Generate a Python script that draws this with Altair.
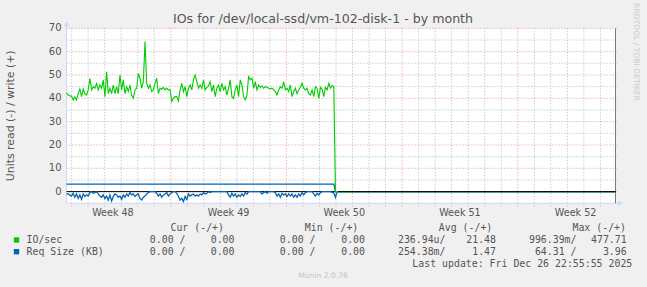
import altair as alt
import pandas as pd

# ---------------- data ----------------
TITLE = "IOs for /dev/local-ssd/vm-102-disk-1 - by month"
Y_LABEL = "Units read (-) / write (+)"
WATERMARK = "RRDTOOL / TOBI OETIKER"
FOOTER = "Munin 2.0.76"
LAST_UPDATE = "Last update: Fri Dec 26 22:55:55 2025"

week_labels = ["Week 48", "Week 49", "Week 50", "Week 51", "Week 52"]
week_label_days = [2.81, 9.81, 16.81, 23.81, 30.81]
week_start_days = [6.31, 13.31, 20.31, 27.31]
y_major = [0, 10, 20, 30, 40, 50, 60, 70]
y_minor = [5, 15, 25, 35, 45, 55, 65]

SAMPLE_STEP_DAYS = 0.1011    # spacing of the samples
X_END_DAYS = 33.224          # right edge of the month window

# IO/sec, write (+)
io_write = [
    42.4, 41.4, 41.0, 41.0, 39.3, 40.7, 39.3, 42.0, 44.0, 40.7,
    44.0, 41.9, 41.4, 43.6, 48.6, 43.6, 45.0, 44.3, 46.4, 43.6,
    45.7, 44.3, 47.9, 40.7, 51.4, 42.0, 44.3, 42.0, 45.7, 42.0,
    45.0, 42.0, 50.0, 43.6, 47.9, 42.0, 45.0, 42.9, 45.7, 41.4,
    40.0, 43.6, 44.3, 50.7, 48.6, 44.3, 47.1, 64.3, 46.4, 44.3,
    45.7, 42.9, 43.6, 46.4, 48.6, 42.0, 44.3, 43.9, 44.7, 43.6,
    44.3, 43.6, 43.6, 38.6, 40.0, 40.7, 40.7, 38.9, 43.6, 46.4,
    42.9, 45.0, 40.7, 44.3, 45.7, 43.6, 47.9, 50.0, 47.1, 44.3,
    45.7, 44.3, 47.9, 43.6, 44.7, 45.3, 47.1, 42.9, 45.7, 40.7,
    44.3, 45.7, 42.9, 46.4, 43.6, 45.0, 41.4, 44.3, 47.9, 40.7,
    40.0, 43.6, 45.7, 40.7, 47.9, 45.7, 40.7, 39.3, 41.4, 49.3,
    47.9, 48.6, 44.3, 47.1, 43.6, 45.7, 44.7, 45.3, 44.3, 45.0,
    44.7, 44.3, 43.9, 44.3, 43.6, 42.9, 41.4, 43.6, 45.0, 44.3,
    47.1, 43.6, 44.3, 42.9, 45.7, 40.7, 42.9, 44.3, 42.0, 43.6,
    44.7, 46.4, 44.3, 43.6, 44.3, 42.0, 41.4, 43.6, 40.7, 45.0,
    44.3, 40.0, 44.7, 43.9, 40.7, 44.7, 43.6, 46.4, 44.3, 45.5,
    45.0, 0.0,
]

# Req Size (KB), read (-) magnitudes
req_read = [
    1.0, 1.0, 1.5, 1.9, 0.7, 2.4, 1.0, 2.9, 1.4, 3.3,
    1.0, 2.1, 1.4, 1.9, 0.4, 0.0, 0.7, 0.4, 0.0, 1.0,
    1.9, 2.4, 1.4, 3.0, 1.9, 3.6, 1.4, 4.0, 2.1, 1.0,
    1.4, 2.4, 1.9, 3.3, 1.4, 2.4, 1.0, 1.9, 0.4, 1.4,
    1.0, 2.1, 1.4, 1.0, 2.9, 3.6, 2.4, 1.9, 1.0, 0.4,
    0.0, 0.0, 0.0, 0.0, 0.7, 1.9, 1.0, 2.4, 1.4, 1.0,
    0.4, 1.9, 1.0, 0.4, 0.0, 0.0, 0.7, 2.1, 3.6, 2.9,
    4.3, 2.1, 3.3, 1.0, 1.9, 1.4, 1.0, 1.9, 1.4, 1.9,
    1.0, 1.4, 0.4, 1.0, 0.7, 0.0, 0.4, 0.0, 0.0, 0.0,
    0.0, 0.0, 0.0, 0.0, 0.0, 0.0, 0.0, 1.4, 2.4, 0.7,
    1.9, 1.0, 2.4, 1.4, 2.1, 1.0, 1.9, 0.4, 1.0, 0.0,
    0.0, 0.0, 0.0, 0.0, 0.0, 0.0, 0.0, 1.0, 0.4, 0.0,
    0.7, 0.0, 0.0, 0.0, 0.0, 0.4, 1.9, 1.0, 2.4, 0.7,
    1.4, 1.0, 2.1, 1.0, 1.9, 1.0, 2.4, 1.4, 2.4, 1.0,
    1.9, 0.4, 1.4, 0.4, 0.0, 0.0, 0.0, 0.0, 1.0, 1.9,
    0.7, 1.4, 0.4, 0.0, 0.0, 0.0, 0.0, 0.0, 0.0, 0.3,
    0.5, 2.5, 0.0,
]

# Req Size (KB), write (+): flat line, then stops
req_write_days = [0.0, 16.18, 16.28, X_END_DAYS]
req_write = [3.2, 3.2, 0.0, 0.0]

legend_series = ["IO/sec", "Req Size (KB)"]
legend_colors = ["#00CC00", "#0066B3"]
legend_headers = ["Cur (-/+)", "Min (-/+)", "Avg (-/+)", "Max (-/+)"]
stat_neg = [["0.00 /", "0.00 /", "236.94u/", "996.39m/"],
            ["0.00 /", "0.00 /", "254.38m/", "64.31 /"]]
stat_pos = [["0.00", "0.00", "21.48", "477.71"],
            ["0.00", "0.00", "1.47", "3.96"]]

# ---------------- layout ----------------
W, H = 549, 175
PL, PT = 66.5, 28.3
TXT = "#555555"
MONO = "DejaVu Sans Mono"
SANS = "DejaVu Sans"

xs = alt.Scale(domain=[0, X_END_DAYS], nice=False, zero=False)
ys = alt.Scale(domain=[-5, 70], nice=False, zero=False)

n_io = len(io_write)
io_days = [i * SAMPLE_STEP_DAYS for i in range(n_io)] + [X_END_DAYS]
io_df = pd.DataFrame({"day": io_days, "v": io_write + [0.0]})

n_rr = len(req_read)
rr_days = [i * SAMPLE_STEP_DAYS for i in range(n_rr)] + [X_END_DAYS]
rr_df = pd.DataFrame({"day": rr_days, "v": [-r for r in req_read] + [0.0]})
rw_df = pd.DataFrame({"day": req_write_days, "v": req_write})

one = pd.DataFrame({"a": [0]})
day_minor = [d + 0.31 for d in range(34) if (d + 0.31) < X_END_DAYS and round(d + 0.31, 2) not in week_start_days]

MINOR = "#B4B4B4"
MAJOR = "#E49090"
DASH = [1, 2]

layers = []
layers.append(alt.Chart(pd.DataFrame({"d": day_minor})).mark_rule(color=MINOR, strokeWidth=1, strokeDash=DASH).encode(
    x=alt.X("d:Q", scale=xs, axis=None), y=alt.value(0), y2=alt.value(H + 3)))
layers.append(alt.Chart(pd.DataFrame({"v": y_minor})).mark_rule(color=MINOR, strokeWidth=1, strokeDash=DASH).encode(
    y=alt.Y("v:Q", scale=ys, axis=None), x=alt.value(0), x2=alt.value(W + 2)))
layers.append(alt.Chart(pd.DataFrame({"d": week_start_days})).mark_rule(color=MAJOR, strokeWidth=1, strokeDash=DASH).encode(
    x=alt.X("d:Q", scale=xs, axis=None), y=alt.value(0), y2=alt.value(H + 3)))
layers.append(alt.Chart(pd.DataFrame({"v": y_major})).mark_rule(color=MAJOR, strokeWidth=1, strokeDash=DASH).encode(
    y=alt.Y("v:Q", scale=ys, axis=None), x=alt.value(0), x2=alt.value(W + 2)))

AX = "#CFD6F8"
layers.append(alt.Chart(one).mark_rule(color=AX, strokeWidth=1).encode(
    x=alt.value(0), y=alt.value(-5), y2=alt.value(H)))
layers.append(alt.Chart(one).mark_rule(color=AX, strokeWidth=1).encode(
    x=alt.value(0), x2=alt.value(W + 5), y=alt.value(H)))
layers.append(alt.Chart(one).mark_point(shape="triangle-up", filled=True, color=AX, opacity=1, size=28).encode(
    x=alt.value(0), y=alt.value(-4.5)))
layers.append(alt.Chart(one).mark_point(shape="triangle-right", filled=True, color=AX, opacity=1, size=28).encode(
    x=alt.value(W + 5), y=alt.value(H)))
layers.append(alt.Chart(one).mark_rule(color="#7A7A7A", strokeWidth=1).encode(
    x=alt.value(W), y=alt.value(0), y2=alt.value(H)))

layers.append(alt.Chart(pd.DataFrame({"v": [0]})).mark_rule(color="#000000", strokeWidth=1).encode(
    y=alt.Y("v:Q", scale=ys, axis=None), x=alt.value(0), x2=alt.value(W)))
layers.append(alt.Chart(rr_df).mark_line(color="#0066B3", strokeWidth=1.3).encode(
    x=alt.X("day:Q", scale=xs, axis=None), y=alt.Y("v:Q", scale=ys, axis=None)))
layers.append(alt.Chart(rw_df).mark_line(color="#0066B3", strokeWidth=1.3).encode(
    x=alt.X("day:Q", scale=xs, axis=None), y=alt.Y("v:Q", scale=ys, axis=None)))
layers.append(alt.Chart(io_df).mark_line(color="#00CC00", strokeWidth=1.1).encode(
    x=alt.X("day:Q", scale=xs, axis=None), y=alt.Y("v:Q", scale=ys, axis=None)))
# zero line shows through where the values are zero (after the data stops)
layers.append(alt.Chart(pd.DataFrame({"v": [0]})).mark_rule(color="#000000", strokeWidth=1).encode(
    y=alt.Y("v:Q", scale=ys, axis=None), x=alt.value(338 - PL), x2=alt.value(W)))

layers.append(alt.Chart(pd.DataFrame({"v": y_major, "t": [str(v) for v in y_major]})).mark_text(
    align="right", baseline="middle", font=SANS, fontSize=10, color=TXT).encode(
    y=alt.Y("v:Q", scale=ys, axis=None), x=alt.value(-5), text="t:N"))
layers.append(alt.Chart(pd.DataFrame({"d": week_label_days, "t": week_labels})).mark_text(
    align="center", baseline="middle", font=SANS, fontSize=9.6, color=TXT).encode(
    x=alt.X("d:Q", scale=xs, axis=None), y=alt.value(212.7 - PT), text="t:N"))


def txt(s, x, y, size, color=TXT, align="left", font=SANS, angle=0):
    return alt.Chart(pd.DataFrame({"t": [s]})).mark_text(
        align=align, baseline="middle", fontSize=size, font=font, color=color, angle=angle).encode(
        x=alt.value(x - PL), y=alt.value(y - PT), text="t:N")


layers.append(txt(TITLE, 323, 19, 12.6, align="center"))
layers.append(txt(Y_LABEL, 10.5, 115.8, 10.9, align="center", angle=270))
layers.append(txt(WATERMARK, 636, 52, 7.6, color="#CCCCCC", align="center", angle=90))
layers.append(txt(FOOTER, 323, 276, 7.6, color="#C4C4C4", align="center"))

header_ends = [224, 358.3, 492.3, 626]
neg_ends = [185.5, 315.5, 445.5, 576.5]
pos_ends = [234.5, 365, 496, 626.7]
row_y = [240, 251.7]
for i, h in enumerate(legend_headers):
    layers.append(txt(h, header_ends[i], 228.3, 9.9, align="right", font=MONO))
for r in range(2):
    layers.append(alt.Chart(one).mark_rect(color=legend_colors[r]).encode(
        x=alt.value(13.8 - PL), x2=alt.value(19.2 - PL),
        y=alt.value(row_y[r] - 2.7 - PT), y2=alt.value(row_y[r] + 2.7 - PT)))
    layers.append(txt(legend_series[r], 26.5, row_y[r], 9.9, font=MONO))
    for c in range(4):
        layers.append(txt(stat_neg[r][c], neg_ends[c], row_y[r], 9.9, align="right", font=MONO))
        layers.append(txt(stat_pos[r][c], pos_ends[c], row_y[r], 9.9, align="right", font=MONO))
layers.append(txt(LAST_UPDATE, 632.3, 264, 9.9, align="right", font=MONO))

chart = alt.layer(*layers).properties(
    width=W, height=H,
    autosize=alt.AutoSizeParams(type="none"),
    padding={"left": PL, "top": PT, "right": 647 - PL - W, "bottom": 287 - PT - H},
    background="#F0F0F0",
).configure_view(fill="#FFFFFF", stroke=None)

chart.save("out.html", embed_options={"renderer": "svg", "actions": False})
